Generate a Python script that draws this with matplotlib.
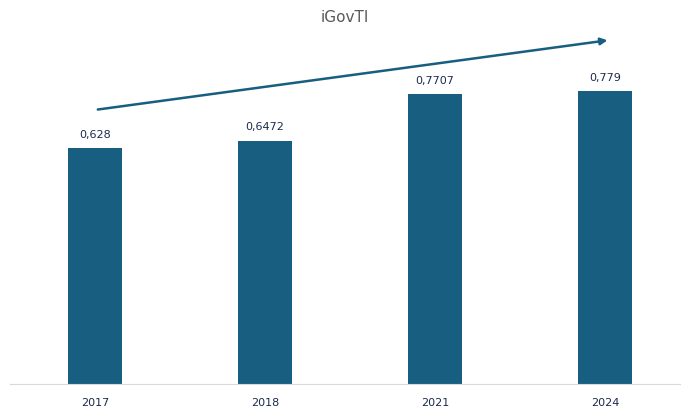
import matplotlib
matplotlib.use("Agg")
import matplotlib.pyplot as plt

years = ["2017", "2018", "2021", "2024"]
values = [0.628, 0.6472, 0.7707, 0.779]
labels = ["0,628", "0,6472", "0,7707", "0,779"]

fig = plt.figure(figsize=(6.9, 4.16), dpi=100)
ax = fig.add_axes([10/690, 32/416, 670/690, 376/416])
x = list(range(len(years)))
ax.bar(x, values, width=0.318, color="#175E80")
for xi, v, l in zip(x, values, labels):
    ax.text(xi, v + 0.035, l, ha="center", va="center", fontsize=8, color="#1B2A4E")
ax.set_xlim(-0.5, 3.44)
ax.set_ylim(0, 1.0)
ax.set_xticks(x)
ax.set_xticklabels(years, fontsize=8, color="#1B2A4E")
ax.tick_params(axis="x", length=0, pad=10)
ax.set_yticks([])
for s in ["top", "left", "right"]:
    ax.spines[s].set_visible(False)
ax.spines["bottom"].set_color("#D9D9D9")
ax.annotate("", xy=(3.03, 0.915), xytext=(0, 0.729),
            arrowprops=dict(arrowstyle="-|>", color="#175E80", lw=1.8, mutation_scale=10))
fig.text(345/690, 1 - 17/416, "iGovTI", ha="center", va="center", fontsize=11, color="#595959")
fig.savefig("out.png", dpi=100)
